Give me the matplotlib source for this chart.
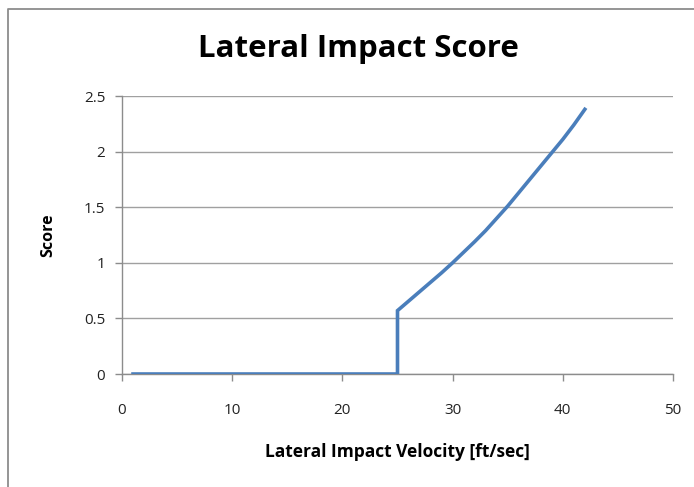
import matplotlib
matplotlib.use("Agg")
import matplotlib.pyplot as plt

plt.rcParams['font.family'] = ['Open Sans', 'DejaVu Sans']

velocity = [1, 5, 10, 15, 20, 25, 25, 26, 27, 28, 29, 30, 31, 32, 33, 34, 35, 36, 37, 38, 39, 40, 41, 42]
score = [0, 0, 0, 0, 0, 0, 0.57, 0.655, 0.74, 0.825, 0.91, 1.0, 1.095, 1.19, 1.29, 1.40, 1.51, 1.63, 1.75, 1.87, 1.99, 2.11, 2.24, 2.38]

x_ticks = [0, 10, 20, 30, 40, 50]
y_ticks = [0, 0.5, 1, 1.5, 2, 2.5]
y_labels = ['0', '0.5', '1', '1.5', '2', '2.5']

W, H = 694, 487
fig = plt.figure(figsize=(W / 100, H / 100), dpi=100)

# full-figure layer in pixel units for the chart area border
bg = fig.add_axes([0, 0, 1, 1])
bg.set_xlim(0, W)
bg.set_ylim(H, 0)
bg.axis('off')
bg.plot([8.5, 8.5, W + 5], [H + 5, 8.5, 8.5], color='#8c8c8c', linewidth=1.3)

ax = fig.add_axes([122 / W, 1 - 374 / H, 551 / W, 278 / H])
ax.patch.set_alpha(0)

ax.plot(velocity, score, color='#4a7ebb', linewidth=2.6, solid_joinstyle='miter', zorder=3)

ax.set_xlim(0, 50)
ax.set_ylim(0, 2.5)
ax.set_xticks(x_ticks)
ax.set_yticks(y_ticks)
ax.set_yticklabels(y_labels)

ax.grid(axis='y', color='#a0a0a0', linewidth=1)
ax.set_axisbelow(True)
for s in ['top', 'right']:
    ax.spines[s].set_visible(False)
for s in ['left', 'bottom']:
    ax.spines[s].set_color('#8c8c8c')
    ax.spines[s].set_linewidth(1)
ax.tick_params(axis='both', colors='#8c8c8c', labelcolor='#222222', labelsize=11, length=5, width=1)
ax.tick_params(axis='x', pad=16)
ax.tick_params(axis='y', pad=7)

fig.text(358 / W, 1 - 49 / H, 'Lateral Impact Score', fontsize=22.5, fontweight='bold',
         ha='center', va='center')
ax.set_xlabel('Lateral Impact Velocity [ft/sec]', fontsize=12.5, fontweight='bold', labelpad=18)
ax.set_ylabel('Score', fontsize=11.5, fontweight='bold', labelpad=20)

fig.savefig('out.png', dpi=100)
